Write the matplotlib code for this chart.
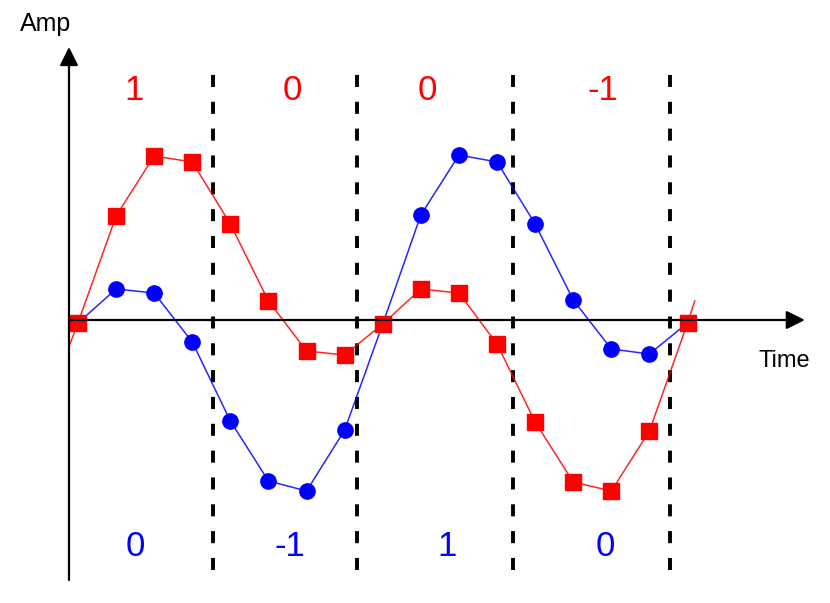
import numpy as np
import matplotlib
matplotlib.use("Agg")
from matplotlib import pyplot as plt

plt.rcParams["font.family"] = ["Liberation Sans", "DejaVu Sans"]

# sample index along time axis
t = np.arange(17)
red_amp = [-0.03, 1.04, 1.64, 1.58, 0.96, 0.19, -0.31, -0.35, -0.04,
           0.31, 0.27, -0.24, -1.02, -1.62, -1.71, -1.11, -0.03]
blue_amp = [-0.03, 0.31, 0.27, -0.22, -1.01, -1.61, -1.71, -1.10, -0.04,
            1.05, 1.65, 1.58, 0.96, 0.20, -0.29, -0.34, -0.03]
# line continues a little past the first / last sample
red_ends = ([-0.24, 16.19], [-0.27, 0.19])
blue_ends = ([-0.24, 16.05], [-0.06, 0.04])

boundaries = [3.54, 7.32, 11.42, 15.54]
red_symbols = ["1", "0", "0", "-1"]
blue_symbols = ["0", "-1", "1", "0"]

fig = plt.figure(figsize=(8.3, 6.03), dpi=100)
ax = fig.add_axes([0, 0, 1, 1])
ax.set_xlim(-2.047, 19.74)
ax.set_ylim(-2.83, 3.2)
ax.axis("off")

# axes with arrows
arrow = dict(arrowstyle="-|>", mutation_scale=28, lw=1.6, color="black",
             shrinkA=0, shrinkB=0)
ax.annotate("", xy=(-0.236, 2.73), xytext=(-0.236, -2.6), arrowprops=arrow)
ax.annotate("", xy=(19.08, 0.0), xytext=(-0.236, 0.0), arrowprops=arrow)
ax.text(-0.84, 2.96, "Amp", fontsize=18, ha="center", va="center")
ax.text(18.53, -0.41, "Time", fontsize=17, ha="center", va="center")

# symbol boundaries
for b in boundaries:
    ax.plot([b, b], [-2.5, 2.5], color="black", lw=2.8, dashes=(3.1, 3.8))

# series
def draw(amp, ends, color, marker, ms):
    lx = [ends[0][0]] + list(t) + [ends[0][1]]
    ly = [ends[1][0]] + list(amp) + [ends[1][1]]
    ax.plot(lx, ly, color=color, lw=1.1, alpha=0.85)
    ax.plot(t, amp, ls="none", marker=marker, ms=ms, color=color, mec=color)

draw(blue_amp, blue_ends, "#0000ff", "o", 11)
draw(red_amp, red_ends, "#ff0000", "s", 12)

red_pos = [1.47, 5.62, 9.16, 13.78]
blue_pos = [1.50, 5.56, 9.69, 13.83]
for x, s in zip(red_pos, red_symbols):
    ax.text(x, 2.3, s, color="#ff0000", fontsize=25, ha="center", va="center")
for x, s in zip(blue_pos, blue_symbols):
    ax.text(x, -2.26, s, color="#0000ff", fontsize=25, ha="center", va="center")

fig.savefig("out.png", dpi=100)
